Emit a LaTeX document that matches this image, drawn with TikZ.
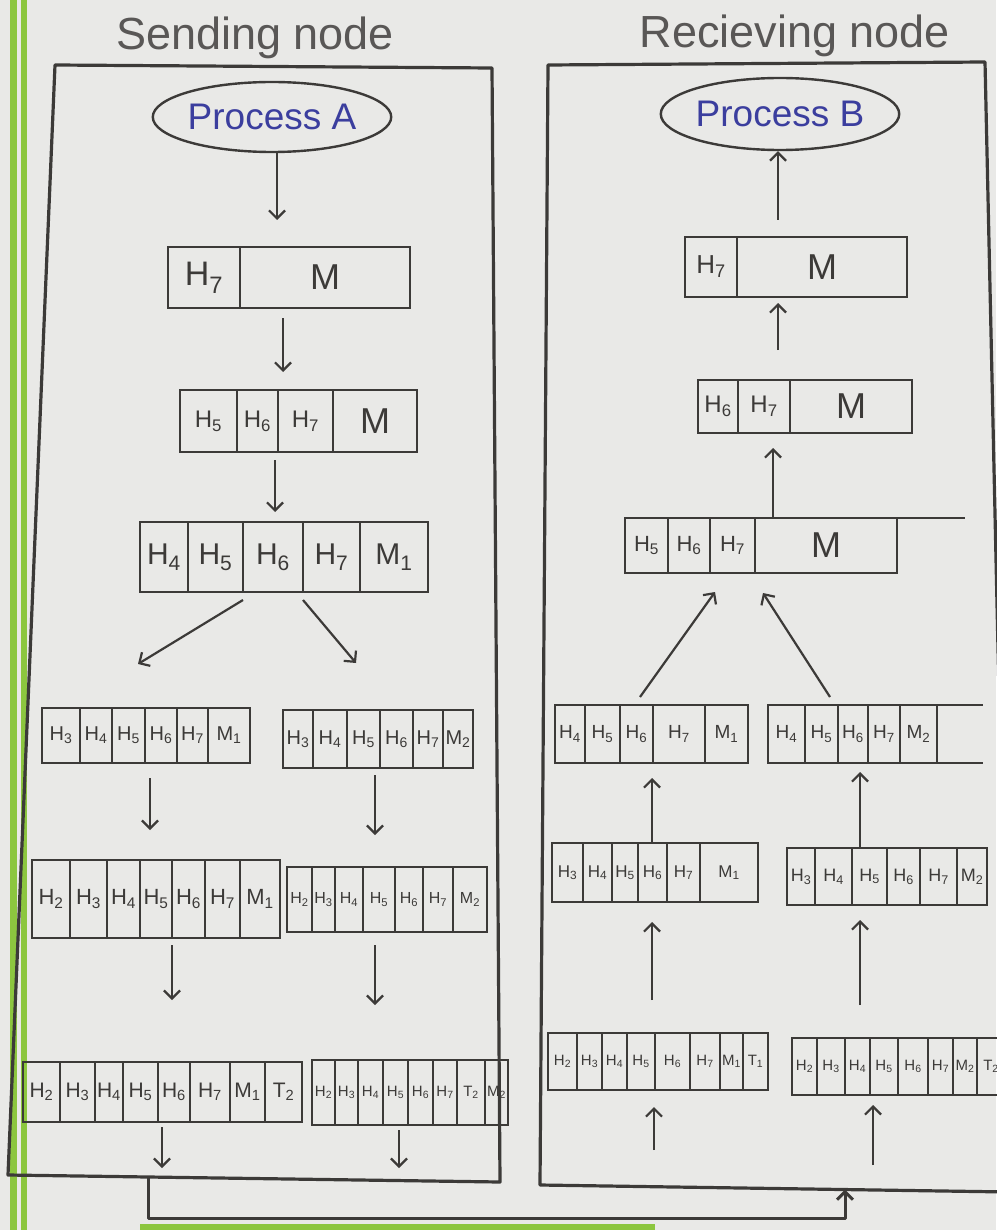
\documentclass[tikz,border=0pt]{standalone}
\usepackage{fontspec}
\setmainfont{Liberation Sans}
\usetikzlibrary{arrows.meta,shapes.geometric,fit,calc}
\definecolor{paper}{HTML}{E9E9E7}
\definecolor{ink}{HTML}{3C3A38}
\definecolor{blueink}{HTML}{3B3E9E}
\definecolor{marginc}{HTML}{8CC63F}
\newcommand\Hn[1]{H\textsubscript{#1}}
\newcommand\Mn[1]{M\textsubscript{#1}}
\newcommand\Tn[1]{T\textsubscript{#1}}
\newcommand\BM{{\fontsize{36}{36}\selectfont M}}
% packet: name, top, bottom, left x, font size, list of rightedge/label
\newcommand\pkt[6]{%
  \xdef\pktprev{#4}%
  \foreach \b/\l [count=\i] in {#6}{%
    \pgfmathsetmacro\pktw{\b-\pktprev}%
    \pgfmathsetmacro\pkth{#3-#2}%
    \pgfmathsetmacro\pktcx{(\pktprev+\b)/2}%
    \pgfmathsetmacro\pktcy{(#2+#3)/2}%
    \node[cell, minimum width=\pktw pt, minimum height=\pkth pt,
          font=\fontsize{#5}{#5}\selectfont] (#1-\i) at (\pktcx,\pktcy) {\l};%
    \xdef\pktprev{\b}%
  }%
  \node[fit={(#4,#2)(\pktprev,#3)}, inner sep=0pt, outer sep=0pt] (#1) {};%
}
\newcommand\vlink[5]{\draw[arr, shorten <=#4pt, shorten >=#5pt] (#1 -| #3,0) -- (#2 -| #3,0);}
\tikzset{
  cell/.style={draw=ink, line width=2.6pt, inner sep=0pt, outer sep=0pt, text=ink, rectangle},
  arr/.style={draw=ink, line width=2.2pt, -{Straight Barb[length=8pt,width=16pt]}},
  frame/.style={draw=ink, line width=3.2pt, line join=round},
  proc/.style={ellipse, draw=ink, line width=2.4pt, text=blueink, inner sep=0pt,
               font=\fontsize{37}{37}\selectfont},
  title/.style={text=ink!85, font=\fontsize{45}{45}\selectfont},
  stray/.style={draw=ink, line width=2.2pt}
}
\begin{document}
\begin{tikzpicture}[x=1pt,y=-1pt]
\useasboundingbox (0,0) rectangle (996,1230);
\fill[paper] (0,0) rectangle (996,1230);
\fill[marginc] (10,0) rectangle (17,1230);
\fill[marginc] (21,0) rectangle (27,1230);
\fill[marginc] (140,1224) rectangle (655,1230);

% titles
\node[title] (tS) at (255,38) {Sending node};
\node[title] (tR) at (795,36) {Recieving node};

% containers
\coordinate (sTL) at (55,65);  \coordinate (sTR) at (492,68);
\coordinate (sBR) at (500,1182); \coordinate (sBL) at (8,1175);
\coordinate (rTL) at (548,65); \coordinate (rTR) at (985,62);
\coordinate (rBR) at (1010,1192); \coordinate (rBL) at (540,1185);
\draw[frame] (sTL) -- (sTR) -- (sBR) -- (sBL) -- cycle;
\draw[frame] (rTL) -- (rTR) -- (rBR) -- (rBL) -- cycle;

% ---------- sending node ----------
\node[proc, minimum width=215pt, minimum height=70pt] (pA) at (272,117) {Process A};
\pkt{s1}{247}{308}{168}{34}{240/\Hn{7}, 410/\BM}
\pkt{s2}{390}{452}{180}{24}{237/\Hn{5}, 278/\Hn{6}, 333/\Hn{7}, 417/\BM}
\pkt{s3}{522}{592}{140}{30}{188/\Hn{4}, 243/\Hn{5}, 303/\Hn{6}, 360/\Hn{7}, 428/\Mn{1}}
\pkt{s4L}{708}{763}{42}{20}{80/\Hn{3}, 112/\Hn{4}, 145/\Hn{5}, 177/\Hn{6}, 208/\Hn{7}, 250/\Mn{1}}
\pkt{s4R}{710}{768}{283}{20}{313/\Hn{3}, 347/\Hn{4}, 380/\Hn{5}, 413/\Hn{6}, 443/\Hn{7}, 473/\Mn{2}}
\pkt{s5L}{860}{938}{32}{22}{70/\Hn{2}, 107/\Hn{3}, 140/\Hn{4}, 172/\Hn{5}, 205/\Hn{6}, 240/\Hn{7}, 280/\Mn{1}}
\pkt{s5R}{867}{932}{287}{16}{312/\Hn{2}, 335/\Hn{3}, 363/\Hn{4}, 395/\Hn{5}, 423/\Hn{6}, 453/\Hn{7}, 487/\Mn{2}}
\pkt{s6L}{1062}{1122}{23}{21}{60/\Hn{2}, 95/\Hn{3}, 123/\Hn{4}, 158/\Hn{5}, 190/\Hn{6}, 230/\Hn{7}, 265/\Mn{1}, 302/\Tn{2}}
\pkt{s6R}{1060}{1125}{312}{15}{335/\Hn{2}, 358/\Hn{3}, 383/\Hn{4}, 408/\Hn{5}, 433/\Hn{6}, 457/\Hn{7}, 485/\Tn{2}, 508/\Mn{2}}

\vlink{pA.south}{s1.north}{277}{0}{27}
\vlink{s1.south}{s2.north}{283}{10}{18}
\vlink{s2.south}{s3.north}{275}{8}{10}
\draw[arr] ($(s3.south -| 243,0)+(0,8)$) -- ($(s4L.north -| 138,0)+(0,-44)$);
\draw[arr] ($(s3.south -| 303,0)+(0,8)$) -- ($(s4R.north -| 356,0)+(0,-47)$);
\vlink{s4L.south}{s5L.north}{150}{15}{30}
\vlink{s4R.south}{s5R.north}{375}{7}{32}
\vlink{s5L.south}{s6L.north}{172}{7}{62}
\vlink{s5R.south}{s6R.north}{375}{13}{55}
\coordinate (e1) at (162,1168);
\coordinate (e2) at (399,1168);
\draw[arr, shorten <=5pt] (s6L.south -| e1) -- (e1);
\draw[arr, shorten <=5pt] (s6R.south -| e2) -- (e2);

% ---------- receiving node ----------
\node[proc, minimum width=205pt, minimum height=72pt] (pB) at (780,114) {Process B};
\pkt{r1}{237}{297}{685}{26}{737/\Hn{7}, 907/\BM}
\pkt{r2}{380}{433}{698}{24}{738/\Hn{6}, 790/\Hn{7}, 912/\BM}
\pkt{r3}{518}{573}{625}{22}{668/\Hn{5}, 710/\Hn{6}, 755/\Hn{7}, 897/\BM}
\pkt{r4L}{705}{763}{555}{19}{585/\Hn{4}, 620/\Hn{5}, 653/\Hn{6}, 705/\Hn{7}, 748/\Mn{1}}
\pkt{r4R}{705}{763}{768}{19}{805/\Hn{4}, 838/\Hn{5}, 868/\Hn{6}, 900/\Hn{7}, 937/\Mn{2}}
\pkt{r5L}{843}{902}{552}{17}{583/\Hn{3}, 612/\Hn{4}, 638/\Hn{5}, 667/\Hn{6}, 700/\Hn{7}, 758/\Mn{1}}
\pkt{r5R}{848}{905}{787}{18}{815/\Hn{3}, 852/\Hn{4}, 887/\Hn{5}, 920/\Hn{6}, 957/\Hn{7}, 987/\Mn{2}}
\pkt{r6L}{1033}{1090}{548}{15}{577/\Hn{2}, 602/\Hn{3}, 627/\Hn{4}, 655/\Hn{5}, 690/\Hn{6}, 720/\Hn{7}, 743/\Mn{1}, 768/\Tn{1}}
\pkt{r6R}{1038}{1095}{792}{15}{817/\Hn{2}, 845/\Hn{3}, 870/\Hn{4}, 898/\Hn{5}, 928/\Hn{6}, 953/\Hn{7}, 977/\Mn{2}, 1005/\Tn{2}}

\draw[stray] (r3.north east) -- ++(68,0);
\draw[stray] (r4R.north east) -- ++(46,0);
\draw[stray] (r4R.south east) -- ++(46,0);

\vlink{r1.north}{pB.south}{778}{17}{0}
\vlink{r2.north}{r1.south}{778}{30}{6}
\vlink{r3.north}{r2.south}{773}{0}{15}
\draw[arr] ($(r4L.north -| 640,0)+(0,-8)$) -- ($(r3.south -| 715,0)+(0,19)$);
\draw[arr] ($(r4R.north -| 830,0)+(0,-8)$) -- ($(r3.south -| 763,0)+(0,20)$);
\vlink{r5L.north}{r4L.south}{652}{0}{15}
\vlink{r5R.north}{r4R.south}{860}{0}{9}
\vlink{r6L.north}{r5L.south}{652}{33}{20}
\vlink{r6R.north}{r5R.south}{860}{33}{15}
\coordinate (f1) at (654,1150);
\coordinate (f2) at (873,1165);
\draw[arr, shorten >=17pt] (f1) -- (f1 |- r6L.south);
\draw[arr, shorten >=10pt] (f2) -- (f2 |- r6R.south);

% ---------- link between the nodes ----------
\coordinate (sOut) at ($(sBL)!0.285!(sBR)$);
\coordinate (rIn) at ($(rBL)!0.649!(rBR)$);
\coordinate (bus) at (500,1218);
\draw[arr, line width=3pt, line join=round] (sOut) -- (sOut |- bus) -- (rIn |- bus) -- (rIn);
\end{tikzpicture}
\end{document}
